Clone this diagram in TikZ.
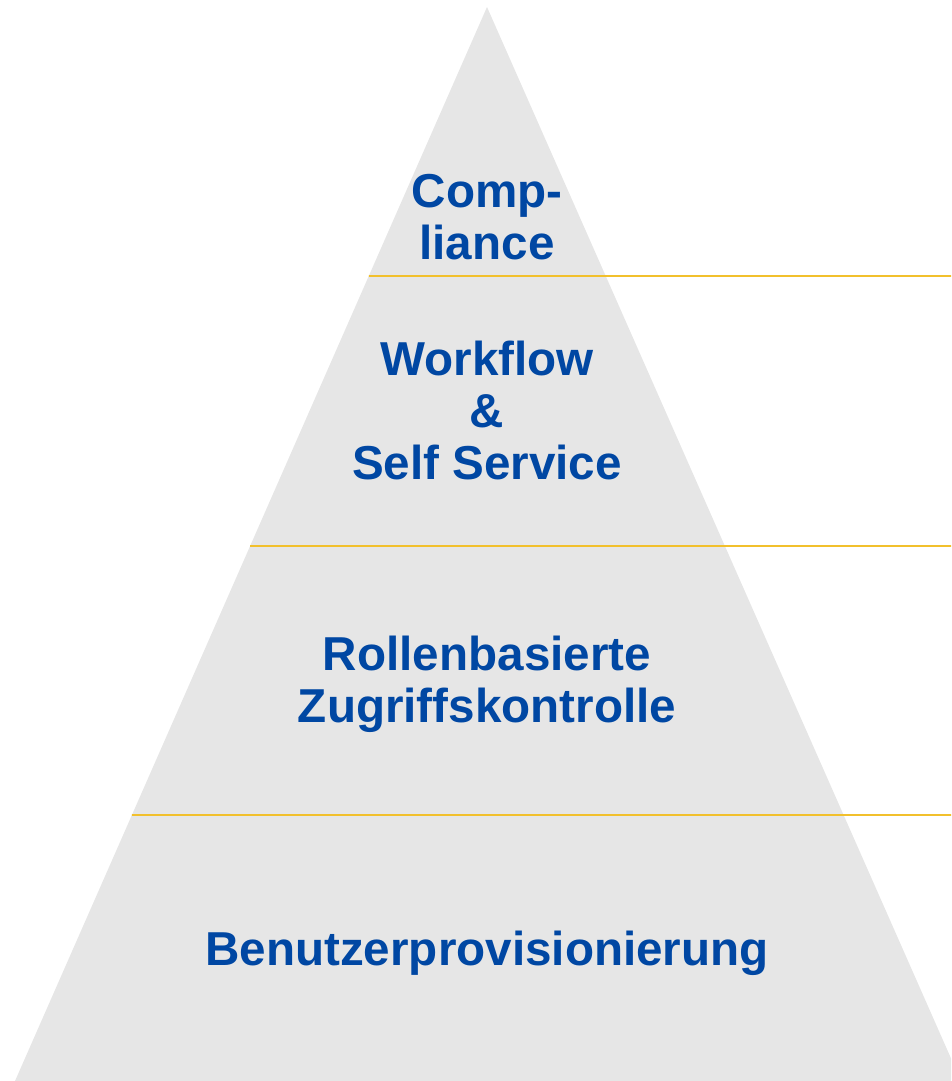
\documentclass[tikz,border=0pt]{standalone}
\usepackage{fontspec}
\setmainfont{Liberation Sans}
\usetikzlibrary{calc}
\definecolor{pyrgrey}{HTML}{E6E6E6}
\definecolor{pyrblue}{HTML}{0047A3}
\definecolor{pyrgold}{HTML}{F2C02C}
\tikzset{
  lvl/.style={text=pyrblue, font=\fontsize{47.6}{52}\selectfont\bfseries, align=center, inner sep=0pt},
  sep/.style={draw=pyrgold, line width=1.6pt}
}
\begin{document}
\begin{tikzpicture}[x=1pt,y=-1pt]
\useasboundingbox (0,0) rectangle (951,1081);
\coordinate (apex) at (487,7);
\coordinate (bl) at (15,1081);
\coordinate (br) at (961,1081);
\clip (0,0) rectangle (951,1081);
\fill[pyrgrey] (apex) -- (bl) -- (br) -- cycle;
\coordinate (l1) at ($(apex)!{269/1074}!(bl)$);
\coordinate (l2) at ($(apex)!{539/1074}!(bl)$);
\coordinate (l3) at ($(apex)!{808/1074}!(bl)$);
\coordinate (r1) at (951,276);
\coordinate (r2) at (951,546);
\coordinate (r3) at (951,815);
\draw[sep] (l1) -- (r1);
\draw[sep] (l2) -- (r2);
\draw[sep] (l3) -- (r3);
\node[lvl] (t1) at (487,217) {Comp-\\liance};
\node[lvl] (t2) at (487,410) {Workflow\\\&\\Self Service};
\node[lvl] (t3) at (487,684) {Rollenbasierte\\Zugriffskontrolle};
\node[lvl] (t4) at (487,953) {Benutzerprovisionierung};
\end{tikzpicture}
\end{document}
